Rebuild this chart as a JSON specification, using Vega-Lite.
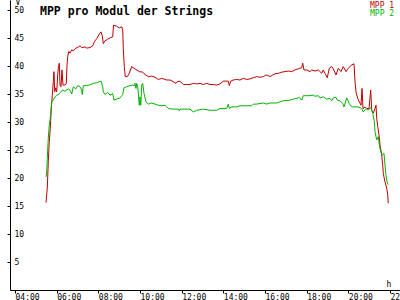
{
  "$schema": "https://vega.github.io/schema/vega-lite/v6.json",
  "autosize": {"type": "none"},
  "padding": {"left": 10, "top": 0, "right": 0, "bottom": 10},
  "width": 390,
  "height": 290,
  "background": "white",
  "config": {
    "font": "DejaVu Sans Mono",
    "view": {"stroke": null}
  },
  "title": {
    "text": "MPP pro Modul der Strings",
    "anchor": "start",
    "frame": "group",
    "dx": 30,
    "dy": 19,
    "offset": 0,
    "font": "DejaVu Sans Mono",
    "fontSize": 11.5,
    "fontWeight": "bold",
    "color": "black"
  },
  "data": {
    "values": [
      {"s":"MPP 1","h":5.488,"v":15.6},{"s":"MPP 1","h":5.55,"v":18.2},{"s":"MPP 1","h":5.598,"v":22.9},{"s":"MPP 1","h":5.646,"v":26.5},{"s":"MPP 1","h":5.694,"v":28.9},{"s":"MPP 1","h":5.742,"v":32.5},{"s":"MPP 1","h":5.79,"v":34.8},{"s":"MPP 1","h":5.838,"v":37.2},{"s":"MPP 1","h":5.872,"v":39.0},{"s":"MPP 1","h":5.906,"v":35.4},{"s":"MPP 1","h":5.954,"v":36.1},{"s":"MPP 1","h":6.002,"v":35.4},{"s":"MPP 1","h":6.05,"v":38.4},{"s":"MPP 1","h":6.078,"v":39.6},{"s":"MPP 1","h":6.126,"v":40.5},{"s":"MPP 1","h":6.16,"v":36.6},{"s":"MPP 1","h":6.208,"v":36.3},{"s":"MPP 1","h":6.256,"v":39.3},{"s":"MPP 1","h":6.304,"v":36.6},{"s":"MPP 1","h":6.4,"v":36.6},{"s":"MPP 1","h":6.462,"v":36.9},{"s":"MPP 1","h":6.496,"v":40.2},{"s":"MPP 1","h":6.53,"v":41.7},{"s":"MPP 1","h":6.578,"v":42.6},{"s":"MPP 1","h":6.64,"v":42.3},{"s":"MPP 1","h":6.722,"v":42.9},{"s":"MPP 1","h":6.798,"v":42.7},{"s":"MPP 1","h":6.928,"v":43.2},{"s":"MPP 1","h":7.038,"v":43.4},{"s":"MPP 1","h":7.12,"v":43.6},{"s":"MPP 1","h":7.202,"v":43.3},{"s":"MPP 1","h":7.36,"v":43.4},{"s":"MPP 1","h":7.442,"v":43.2},{"s":"MPP 1","h":7.6,"v":43.3},{"s":"MPP 1","h":7.73,"v":43.6},{"s":"MPP 1","h":7.806,"v":44.3},{"s":"MPP 1","h":7.922,"v":44.9},{"s":"MPP 1","h":8.046,"v":45.7},{"s":"MPP 1","h":8.128,"v":46.1},{"s":"MPP 1","h":8.19,"v":45.4},{"s":"MPP 1","h":8.238,"v":44.0},{"s":"MPP 1","h":8.32,"v":44.5},{"s":"MPP 1","h":8.45,"v":44.8},{"s":"MPP 1","h":8.594,"v":45.1},{"s":"MPP 1","h":8.69,"v":45.2},{"s":"MPP 1","h":8.728,"v":47.3},{"s":"MPP 1","h":8.882,"v":47.1},{"s":"MPP 1","h":9.006,"v":46.8},{"s":"MPP 1","h":9.122,"v":47.0},{"s":"MPP 1","h":9.17,"v":46.4},{"s":"MPP 1","h":9.198,"v":43.2},{"s":"MPP 1","h":9.246,"v":39.9},{"s":"MPP 1","h":9.294,"v":38.1},{"s":"MPP 1","h":9.39,"v":38.1},{"s":"MPP 1","h":9.486,"v":38.7},{"s":"MPP 1","h":9.602,"v":39.9},{"s":"MPP 1","h":9.712,"v":39.6},{"s":"MPP 1","h":9.842,"v":39.3},{"s":"MPP 1","h":9.966,"v":39.0},{"s":"MPP 1","h":10.13,"v":38.9},{"s":"MPP 1","h":10.24,"v":38.5},{"s":"MPP 1","h":10.398,"v":38.1},{"s":"MPP 1","h":10.562,"v":38.2},{"s":"MPP 1","h":10.72,"v":38.0},{"s":"MPP 1","h":10.878,"v":37.6},{"s":"MPP 1","h":11.042,"v":37.8},{"s":"MPP 1","h":11.282,"v":37.5},{"s":"MPP 1","h":11.44,"v":37.5},{"s":"MPP 1","h":11.598,"v":37.2},{"s":"MPP 1","h":11.728,"v":36.9},{"s":"MPP 1","h":11.79,"v":37.2},{"s":"MPP 1","h":11.92,"v":37.3},{"s":"MPP 1","h":12.078,"v":36.7},{"s":"MPP 1","h":12.242,"v":36.7},{"s":"MPP 1","h":12.4,"v":36.7},{"s":"MPP 1","h":12.558,"v":36.9},{"s":"MPP 1","h":12.722,"v":36.8},{"s":"MPP 1","h":12.88,"v":36.9},{"s":"MPP 1","h":13.038,"v":36.7},{"s":"MPP 1","h":13.202,"v":36.9},{"s":"MPP 1","h":13.36,"v":36.7},{"s":"MPP 1","h":13.518,"v":36.7},{"s":"MPP 1","h":13.682,"v":36.6},{"s":"MPP 1","h":13.84,"v":36.8},{"s":"MPP 1","h":13.998,"v":37.3},{"s":"MPP 1","h":14.238,"v":37.3},{"s":"MPP 1","h":14.286,"v":36.5},{"s":"MPP 1","h":14.354,"v":37.3},{"s":"MPP 1","h":14.478,"v":37.5},{"s":"MPP 1","h":14.642,"v":37.6},{"s":"MPP 1","h":14.8,"v":37.5},{"s":"MPP 1","h":14.958,"v":37.8},{"s":"MPP 1","h":15.122,"v":37.6},{"s":"MPP 1","h":15.28,"v":37.7},{"s":"MPP 1","h":15.438,"v":37.9},{"s":"MPP 1","h":15.602,"v":38.1},{"s":"MPP 1","h":15.76,"v":38.0},{"s":"MPP 1","h":15.918,"v":38.1},{"s":"MPP 1","h":16.048,"v":38.4},{"s":"MPP 1","h":16.158,"v":38.3},{"s":"MPP 1","h":16.24,"v":38.1},{"s":"MPP 1","h":16.37,"v":38.4},{"s":"MPP 1","h":16.48,"v":38.6},{"s":"MPP 1","h":16.638,"v":38.7},{"s":"MPP 1","h":16.802,"v":38.9},{"s":"MPP 1","h":16.96,"v":39.0},{"s":"MPP 1","h":17.118,"v":39.1},{"s":"MPP 1","h":17.282,"v":39.0},{"s":"MPP 1","h":17.44,"v":39.3},{"s":"MPP 1","h":17.598,"v":39.5},{"s":"MPP 1","h":17.762,"v":39.7},{"s":"MPP 1","h":17.81,"v":40.5},{"s":"MPP 1","h":17.872,"v":39.3},{"s":"MPP 1","h":18.002,"v":39.3},{"s":"MPP 1","h":18.16,"v":39.0},{"s":"MPP 1","h":18.242,"v":39.3},{"s":"MPP 1","h":18.4,"v":39.1},{"s":"MPP 1","h":18.558,"v":39.3},{"s":"MPP 1","h":18.722,"v":38.7},{"s":"MPP 1","h":18.798,"v":39.3},{"s":"MPP 1","h":18.88,"v":38.7},{"s":"MPP 1","h":18.99,"v":37.9},{"s":"MPP 1","h":19.086,"v":39.6},{"s":"MPP 1","h":19.202,"v":39.9},{"s":"MPP 1","h":19.278,"v":39.5},{"s":"MPP 1","h":19.408,"v":38.4},{"s":"MPP 1","h":19.518,"v":39.6},{"s":"MPP 1","h":19.648,"v":39.0},{"s":"MPP 1","h":19.758,"v":39.9},{"s":"MPP 1","h":19.888,"v":39.0},{"s":"MPP 1","h":19.998,"v":39.6},{"s":"MPP 1","h":20.162,"v":40.2},{"s":"MPP 1","h":20.272,"v":40.4},{"s":"MPP 1","h":20.32,"v":37.2},{"s":"MPP 1","h":20.368,"v":35.4},{"s":"MPP 1","h":20.45,"v":34.2},{"s":"MPP 1","h":20.526,"v":33.6},{"s":"MPP 1","h":20.608,"v":33.0},{"s":"MPP 1","h":20.656,"v":36.0},{"s":"MPP 1","h":20.704,"v":32.4},{"s":"MPP 1","h":20.8,"v":32.7},{"s":"MPP 1","h":20.882,"v":32.4},{"s":"MPP 1","h":20.992,"v":32.4},{"s":"MPP 1","h":21.074,"v":35.7},{"s":"MPP 1","h":21.122,"v":32.1},{"s":"MPP 1","h":21.198,"v":31.6},{"s":"MPP 1","h":21.28,"v":32.4},{"s":"MPP 1","h":21.328,"v":33.0},{"s":"MPP 1","h":21.362,"v":30.7},{"s":"MPP 1","h":21.41,"v":29.2},{"s":"MPP 1","h":21.472,"v":27.7},{"s":"MPP 1","h":21.52,"v":25.9},{"s":"MPP 1","h":21.602,"v":24.1},{"s":"MPP 1","h":21.65,"v":22.3},{"s":"MPP 1","h":21.678,"v":20.8},{"s":"MPP 1","h":21.76,"v":19.3},{"s":"MPP 1","h":21.842,"v":18.2},{"s":"MPP 1","h":21.89,"v":17.0},{"s":"MPP 1","h":21.918,"v":15.5},
      {"s":"MPP 2","h":5.488,"v":20.2},{"s":"MPP 2","h":5.522,"v":21.1},{"s":"MPP 2","h":5.55,"v":23.5},{"s":"MPP 2","h":5.598,"v":27.1},{"s":"MPP 2","h":5.646,"v":29.5},{"s":"MPP 2","h":5.694,"v":30.7},{"s":"MPP 2","h":5.762,"v":33.6},{"s":"MPP 2","h":5.838,"v":33.9},{"s":"MPP 2","h":5.92,"v":34.5},{"s":"MPP 2","h":6.002,"v":34.8},{"s":"MPP 2","h":6.078,"v":34.9},{"s":"MPP 2","h":6.194,"v":35.3},{"s":"MPP 2","h":6.27,"v":35.7},{"s":"MPP 2","h":6.4,"v":35.5},{"s":"MPP 2","h":6.558,"v":35.9},{"s":"MPP 2","h":6.64,"v":35.7},{"s":"MPP 2","h":6.722,"v":35.0},{"s":"MPP 2","h":6.798,"v":36.3},{"s":"MPP 2","h":6.914,"v":35.9},{"s":"MPP 2","h":7.01,"v":36.5},{"s":"MPP 2","h":7.12,"v":36.3},{"s":"MPP 2","h":7.202,"v":35.7},{"s":"MPP 2","h":7.23,"v":34.9},{"s":"MPP 2","h":7.278,"v":36.5},{"s":"MPP 2","h":7.442,"v":36.5},{"s":"MPP 2","h":7.566,"v":36.6},{"s":"MPP 2","h":7.758,"v":36.9},{"s":"MPP 2","h":7.922,"v":37.0},{"s":"MPP 2","h":8.046,"v":37.2},{"s":"MPP 2","h":8.128,"v":37.3},{"s":"MPP 2","h":8.21,"v":36.3},{"s":"MPP 2","h":8.238,"v":35.4},{"s":"MPP 2","h":8.32,"v":34.9},{"s":"MPP 2","h":8.45,"v":35.3},{"s":"MPP 2","h":8.56,"v":34.8},{"s":"MPP 2","h":8.69,"v":35.1},{"s":"MPP 2","h":8.752,"v":33.9},{"s":"MPP 2","h":8.882,"v":34.1},{"s":"MPP 2","h":9.04,"v":34.3},{"s":"MPP 2","h":9.17,"v":34.9},{"s":"MPP 2","h":9.232,"v":36.1},{"s":"MPP 2","h":9.362,"v":36.3},{"s":"MPP 2","h":9.52,"v":36.5},{"s":"MPP 2","h":9.65,"v":36.6},{"s":"MPP 2","h":9.726,"v":36.5},{"s":"MPP 2","h":9.76,"v":36.9},{"s":"MPP 2","h":9.808,"v":36.0},{"s":"MPP 2","h":9.842,"v":36.9},{"s":"MPP 2","h":9.89,"v":36.3},{"s":"MPP 2","h":9.966,"v":33.0},{"s":"MPP 2","h":10.0,"v":34.5},{"s":"MPP 2","h":10.038,"v":33.0},{"s":"MPP 2","h":10.082,"v":36.6},{"s":"MPP 2","h":10.13,"v":36.9},{"s":"MPP 2","h":10.192,"v":35.1},{"s":"MPP 2","h":10.288,"v":33.6},{"s":"MPP 2","h":10.398,"v":33.2},{"s":"MPP 2","h":10.562,"v":33.4},{"s":"MPP 2","h":10.72,"v":33.2},{"s":"MPP 2","h":10.878,"v":33.0},{"s":"MPP 2","h":11.042,"v":32.9},{"s":"MPP 2","h":11.2,"v":33.0},{"s":"MPP 2","h":11.358,"v":32.4},{"s":"MPP 2","h":11.598,"v":32.3},{"s":"MPP 2","h":11.838,"v":32.3},{"s":"MPP 2","h":11.886,"v":32.0},{"s":"MPP 2","h":11.92,"v":32.3},{"s":"MPP 2","h":12.4,"v":32.3},{"s":"MPP 2","h":12.558,"v":31.8},{"s":"MPP 2","h":12.722,"v":32.1},{"s":"MPP 2","h":13.038,"v":32.3},{"s":"MPP 2","h":13.36,"v":32.1},{"s":"MPP 2","h":13.682,"v":32.1},{"s":"MPP 2","h":13.84,"v":32.4},{"s":"MPP 2","h":14.162,"v":32.4},{"s":"MPP 2","h":14.238,"v":33.2},{"s":"MPP 2","h":14.286,"v":32.4},{"s":"MPP 2","h":14.402,"v":32.7},{"s":"MPP 2","h":14.642,"v":32.7},{"s":"MPP 2","h":14.8,"v":32.9},{"s":"MPP 2","h":15.122,"v":32.9},{"s":"MPP 2","h":15.362,"v":32.9},{"s":"MPP 2","h":15.438,"v":33.2},{"s":"MPP 2","h":15.602,"v":33.2},{"s":"MPP 2","h":15.918,"v":33.4},{"s":"MPP 2","h":16.082,"v":33.2},{"s":"MPP 2","h":16.24,"v":33.4},{"s":"MPP 2","h":16.562,"v":33.4},{"s":"MPP 2","h":16.72,"v":33.6},{"s":"MPP 2","h":16.878,"v":33.8},{"s":"MPP 2","h":17.2,"v":33.9},{"s":"MPP 2","h":17.358,"v":34.1},{"s":"MPP 2","h":17.522,"v":34.2},{"s":"MPP 2","h":17.646,"v":34.4},{"s":"MPP 2","h":17.762,"v":33.9},{"s":"MPP 2","h":17.838,"v":34.7},{"s":"MPP 2","h":18.002,"v":34.7},{"s":"MPP 2","h":18.16,"v":34.7},{"s":"MPP 2","h":18.318,"v":34.8},{"s":"MPP 2","h":18.4,"v":34.6},{"s":"MPP 2","h":18.558,"v":34.7},{"s":"MPP 2","h":18.64,"v":34.3},{"s":"MPP 2","h":18.798,"v":34.5},{"s":"MPP 2","h":18.962,"v":34.1},{"s":"MPP 2","h":19.12,"v":34.2},{"s":"MPP 2","h":19.202,"v":33.8},{"s":"MPP 2","h":19.278,"v":34.3},{"s":"MPP 2","h":19.408,"v":34.4},{"s":"MPP 2","h":19.47,"v":33.9},{"s":"MPP 2","h":19.6,"v":33.8},{"s":"MPP 2","h":19.73,"v":33.3},{"s":"MPP 2","h":19.792,"v":32.7},{"s":"MPP 2","h":19.922,"v":34.3},{"s":"MPP 2","h":20.046,"v":33.3},{"s":"MPP 2","h":20.162,"v":32.7},{"s":"MPP 2","h":20.32,"v":32.7},{"s":"MPP 2","h":20.478,"v":32.7},{"s":"MPP 2","h":20.642,"v":32.4},{"s":"MPP 2","h":20.718,"v":31.8},{"s":"MPP 2","h":20.848,"v":32.4},{"s":"MPP 2","h":20.958,"v":32.1},{"s":"MPP 2","h":21.074,"v":32.6},{"s":"MPP 2","h":21.17,"v":31.6},{"s":"MPP 2","h":21.246,"v":30.1},{"s":"MPP 2","h":21.28,"v":28.3},{"s":"MPP 2","h":21.362,"v":26.8},{"s":"MPP 2","h":21.438,"v":27.4},{"s":"MPP 2","h":21.486,"v":25.9},{"s":"MPP 2","h":21.554,"v":24.7},{"s":"MPP 2","h":21.63,"v":24.1},{"s":"MPP 2","h":21.712,"v":24.4},{"s":"MPP 2","h":21.76,"v":22.3},{"s":"MPP 2","h":21.808,"v":20.5},{"s":"MPP 2","h":21.87,"v":19.1},{"s":"MPP 2","h":21.918,"v":18.8}
    ]
  },
  "mark": {"type": "line", "strokeWidth": 1, "interpolate": "linear"},
  "encoding": {
    "x": {
      "field": "h",
      "type": "quantitative",
      "scale": {"domain": [3.76, 22.48], "nice": false, "zero": false},
      "axis": {
        "values": [4, 6, 8, 10, 12, 14, 16, 18, 20, 22],
        "labelExpr": "(datum.value < 10 ? '0' : '') + datum.value + ':00'",
        "grid": false,
        "domainColor": "black",
        "tickColor": "black",
        "tickSize": 3,
        "labelColor": "black",
        "labelFont": "DejaVu Sans Mono",
        "labelFontSize": 8,
        "labelAlign": "left",
        "labelDx": -3,
        "labelPadding": 0,
        "labelBaseline": "top",
        "labelFlush": false,
        "labelOverlap": false,
        "title": "h",
        "titleFont": "DejaVu Sans Mono",
        "titleFontSize": 8,
        "titleFontWeight": "normal",
        "titleColor": "black",
        "titleX": 376,
        "titleY": -4,
        "titleAlign": "left",
        "titleBaseline": "alphabetic"
      }
    },
    "y": {
      "field": "v",
      "type": "quantitative",
      "scale": {"domain": [0, 51.79], "nice": false},
      "axis": {
        "values": [5, 10, 15, 20, 25, 30, 35, 40, 45, 50],
        "grid": false,
        "domainColor": "black",
        "tickColor": "black",
        "tickSize": 3,
        "labelColor": "black",
        "labelFont": "DejaVu Sans Mono",
        "labelFontSize": 8,
        "labelAlign": "left",
        "labelBaseline": "middle",
        "labelPadding": -7,
        "labelFlush": false,
        "labelOverlap": false,
        "title": "V",
        "titleFont": "DejaVu Sans Mono",
        "titleFontSize": 8,
        "titleFontWeight": "normal",
        "titleColor": "black",
        "titleAngle": 0,
        "titleX": 5,
        "titleY": 4,
        "titleAlign": "left",
        "titleBaseline": "alphabetic"
      }
    },
    "color": {
      "field": "s",
      "type": "nominal",
      "scale": {"domain": ["MPP 1", "MPP 2"], "range": ["#c00000", "#00b400"]},
      "legend": {
        "title": null,
        "orient": "none",
        "legendX": 352,
        "legendY": 1.5,
        "padding": 0,
        "rowPadding": 0,
        "symbolSize": 0,
        "symbolStrokeWidth": 0,
        "symbolOpacity": 0,
        "labelOffset": 0,
        "labelFont": "DejaVu Sans Mono",
        "labelFontSize": 8,
        "encode": {"labels": {"update": {"fill": {"scale": "color", "field": "value"}}}}
      }
    }
  }
}
